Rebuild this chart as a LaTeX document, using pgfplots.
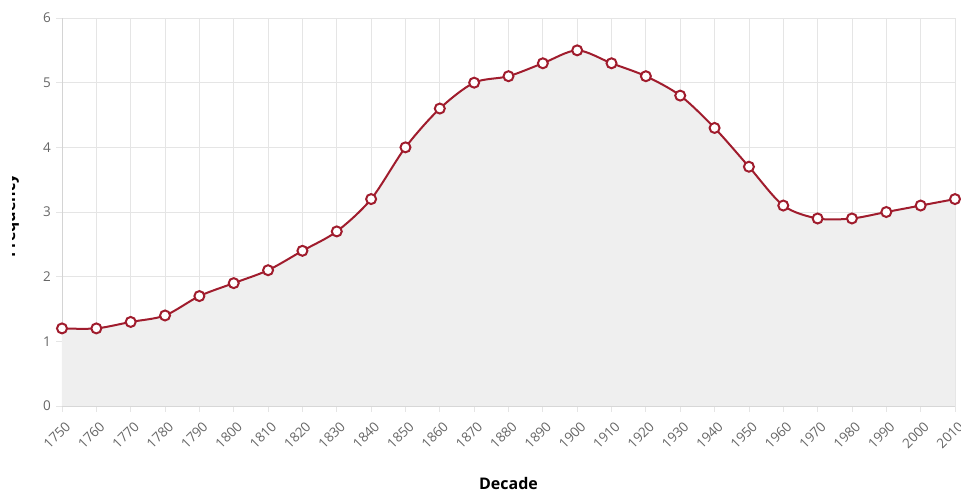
\documentclass[border=0pt]{standalone}
\usepackage{pgfplots}
\pgfplotsset{compat=1.18}
\usepackage{fontspec}
\setmainfont{Open Sans}
\definecolor{linered}{RGB}{160,28,45}
\definecolor{areafill}{RGB}{239,239,239}
\definecolor{gridgray}{RGB}{229,229,229}
\definecolor{axisgray}{RGB}{212,212,212}
\definecolor{tickgray}{RGB}{102,102,102}
\begin{document}
\begin{tikzpicture}[x=1pt,y=1pt]
\begin{axis}[
  at={(62pt,85pt)}, anchor=south west,
  scale only axis, width=893pt, height=388pt,
  xmin=1750, xmax=2010, ymin=0, ymax=6,
  xtick={1750,1760,...,2010}, ytick={0,1,...,6},
  axis x line*=bottom, axis y line*=left,
  grid=major,
  major grid style={gridgray, line width=0.8pt},
  axis line style={draw=axisgray, line width=0.8pt},
  tick style={gridgray, line width=0.8pt},
  tick align=outside,
  major tick length=6pt,
  /pgf/number format/1000 sep={},
  /pgf/number format/assume math mode=true,
  ticklabel style={font=\fontsize{13.5}{15}\selectfont, text=tickgray},
  xticklabel style={anchor=east, xshift=6pt, yshift=-12pt, rotate=45, inner sep=0pt},
  yticklabel style={anchor=east, inner sep=0pt, xshift=-5pt},
  xlabel={Decade},
  xlabel style={at={(axis description cs:0.5,0)}, anchor=base, yshift=-83pt, font=\fontsize{16}{18}\selectfont\bfseries},
  ylabel={Frequency},
  ylabel style={at={(axis description cs:0,0.5)}, anchor=base, xshift=-4pt, yshift=47pt, font=\fontsize{16}{18}\selectfont\bfseries},
  clip=false,
]
\addplot[smooth, tension=0.5, draw=none, fill=areafill] coordinates {
(1750,1.2) (1760,1.2) (1770,1.3) (1780,1.4) (1790,1.7) (1800,1.9) (1810,2.1)
(1820,2.4) (1830,2.7) (1840,3.2) (1850,4.0) (1860,4.6) (1870,5.0) (1880,5.1)
(1890,5.3) (1900,5.5) (1910,5.3) (1920,5.1) (1930,4.8) (1940,4.3) (1950,3.7)
(1960,3.1) (1970,2.9) (1980,2.9) (1990,3.0) (2000,3.1) (2010,3.2)
} \closedcycle;
\addplot[smooth, tension=0.5, color=linered, line width=2pt,
  mark=*, mark size=5pt, mark options={fill=white, draw=linered, line width=2pt}] coordinates {
(1750,1.2) (1760,1.2) (1770,1.3) (1780,1.4) (1790,1.7) (1800,1.9) (1810,2.1)
(1820,2.4) (1830,2.7) (1840,3.2) (1850,4.0) (1860,4.6) (1870,5.0) (1880,5.1)
(1890,5.3) (1900,5.5) (1910,5.3) (1920,5.1) (1930,4.8) (1940,4.3) (1950,3.7)
(1960,3.1) (1970,2.9) (1980,2.9) (1990,3.0) (2000,3.1) (2010,3.2)
};
\end{axis}
\fill[white] (-80,0) rectangle (12,491);
\pgfresetboundingbox
\useasboundingbox (0,0) rectangle (961,491);
\end{tikzpicture}
\end{document}
